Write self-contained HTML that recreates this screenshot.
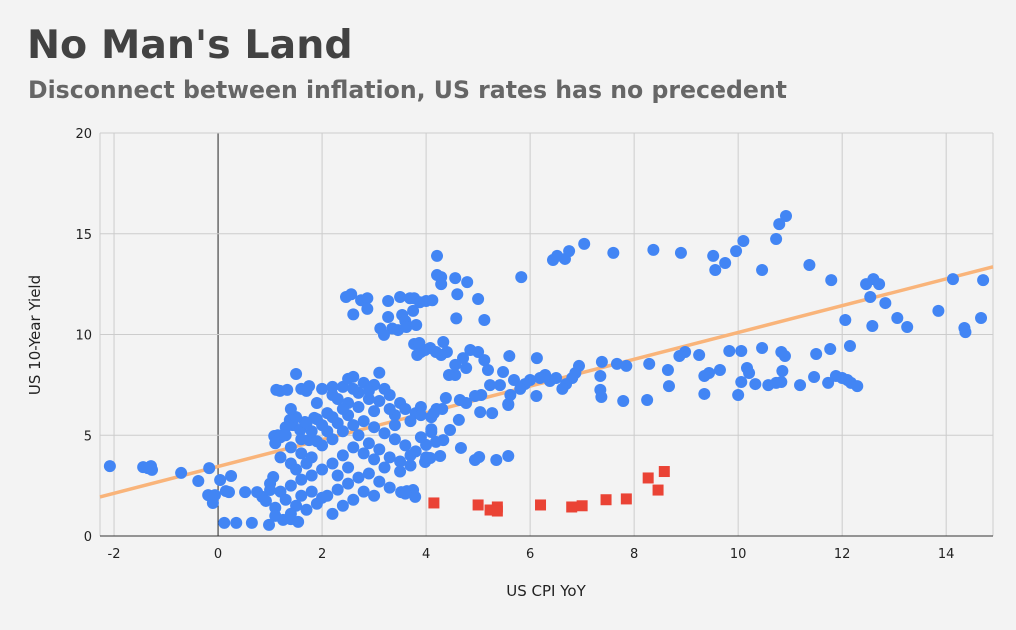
<!DOCTYPE html>
<html><head><meta charset="utf-8">
<style>
html,body{margin:0;padding:0;background:#f3f3f3;}
body{width:1016px;height:626px;overflow:hidden;font-family:"DejaVu Sans","Liberation Sans",sans-serif;}
</style></head>
<body>
<svg id="chart" width="1016" height="626" xmlns="http://www.w3.org/2000/svg">
<rect width="1016" height="626" fill="#f3f3f3"/>
<text x="27" y="58" font-family="DejaVu Sans,sans-serif" font-weight="bold" font-size="39.5" fill="#424242">No Man's Land</text>
<text x="28" y="98" font-family="DejaVu Sans,sans-serif" font-weight="bold" font-size="23.6" fill="#666">Disconnect between inflation, US rates has no precedent</text>
<g id="grid"></g><g id="trend"></g><g id="pts"></g><g id="labels"></g>
<text x="546" y="596" text-anchor="middle" font-size="15" fill="#222">US CPI YoY</text>
<text transform="translate(40,335) rotate(-90)" text-anchor="middle" font-size="15" fill="#222">US 10-Year Yield</text>
</svg>
<script>
const xTicks=[-2,0,2,4,6,8,10,12,14];
const yTicks=[0,5,10,15,20];
const trendIntercept=3.45;
const trendSlope=0.665;
const redX=[4.15,5.0,5.23,5.37,5.37,6.2,6.8,7.0,7.46,7.85,8.27,8.46,8.58];
const redY=[1.64,1.54,1.29,1.44,1.24,1.54,1.44,1.5,1.8,1.84,2.88,2.28,3.2];
const blue=[[-2.08,3.47],[-1.44,3.42],[-1.35,3.37],[-1.27,3.28],[-1.29,3.47],[-0.71,3.13],[-0.38,2.73],[-0.17,3.37],[-0.19,2.03],[-0.1,1.64],[-0.06,2.03],[0.04,2.78],[0.15,2.23],[0.21,2.18],[0.25,2.98],[0.12,0.65],[0.35,0.65],[0.65,0.65],[0.98,0.55],[0.52,2.18],[0.75,2.18],[0.85,1.94],[0.92,1.74],[1.0,2.28],[1.06,2.93],[1.12,7.25],[1.19,7.2],[1.08,4.96],[1.15,5.0],[1.33,7.25],[1.5,8.04],[1.6,7.3],[1.75,7.44],[1.25,0.8],[1.4,0.84],[1.54,0.7],[1.38,5.76],[1.44,5.5],[1.58,5.26],[1.67,5.66],[1.75,4.76],[1.85,5.86],
[2.46,11.86],[2.56,12.0],[2.75,11.7],[2.87,11.8],[2.6,11.0],[2.87,11.27],[3.12,10.3],[3.27,10.87],[3.27,11.66],[3.35,10.3],[3.5,11.86],[3.54,10.97],[3.6,10.67],[3.69,11.8],[3.77,11.8],[3.75,11.17],[3.19,9.98],[3.46,10.22],[3.62,10.37],[3.81,10.47],[3.88,11.6],[4.0,11.66],[4.12,11.7],[4.21,13.9],[4.21,12.95],[4.29,12.85],[4.29,12.5],[4.56,12.8],[4.6,12.0],[4.58,10.8],[4.79,12.6],[5.0,11.76],[5.12,10.72],[5.83,12.85],[6.44,13.7],[6.52,13.9],[6.67,13.75],[6.75,14.14],[7.04,14.5],[7.6,14.05],[8.37,14.2],[8.9,14.05],[9.52,13.9],[9.56,13.2],[9.75,13.55],[9.96,14.14],[10.1,14.64],[10.46,13.2],[10.73,14.74],[10.79,15.48],[10.92,15.88],[11.37,13.45],[11.79,12.7],[12.46,12.5],[12.6,12.75],[12.71,12.5],[12.83,11.56],[12.54,11.86],[12.58,10.42],[12.06,10.72],[13.06,10.82],[13.25,10.37],[13.85,11.17],[14.13,12.75],[14.35,10.32],[14.37,10.12],[14.71,12.7],[14.67,10.82],
[12.15,9.43],[11.77,9.28],[11.5,9.03],[10.9,8.93],[10.83,9.13],[10.85,8.19],[10.83,7.64],[10.73,7.6],[10.58,7.49],[10.46,9.33],[10.17,8.34],[10.21,8.09],[10.06,9.18],[10.06,7.64],[10.0,7.0],[9.83,9.18],[9.65,8.24],[9.44,8.09],[9.35,7.94],[9.35,7.05],[9.25,8.98],[8.98,9.13],[8.87,8.93],[8.65,8.24],[8.67,7.44],[8.25,6.75],[8.29,8.54],[7.79,6.7],[7.85,8.44],[7.67,8.54],[7.35,7.94],[7.35,7.25],[7.37,6.9],[7.38,8.64],[10.33,7.54],[11.19,7.49],[11.46,7.89],[11.73,7.6],[11.88,7.94],[12.0,7.84],[12.1,7.74],[12.17,7.6],[12.29,7.44],
[6.94,8.44],[6.87,8.09],[6.81,7.84],[6.69,7.54],[6.62,7.3],[6.5,7.84],[6.38,7.69],[6.29,7.99],[6.19,7.84],[6.13,8.83],[6.12,6.95],[6.0,7.74],[5.9,7.54],[5.81,7.3],[5.69,7.74],[5.62,7.0],[5.58,6.5],[5.6,8.93],[5.42,7.49],[5.48,8.14],[5.23,7.49],[5.19,8.24],[5.12,8.73],[5.0,9.13],[4.85,9.23],[4.71,8.83],[4.77,8.34],[4.56,7.99],[4.44,7.99],[4.4,9.13],[4.29,8.98],[4.19,9.13],[4.08,9.33],[3.98,9.23],[3.9,9.13],[3.83,8.98],[3.77,9.53],[3.87,9.58],[4.33,9.63],[4.56,8.49],
[5.06,7.0],[4.94,6.95],[4.77,6.6],[4.65,6.75],[4.38,6.85],[4.31,6.3],[4.15,6.1],[5.04,6.15],[5.27,6.1],[4.63,5.76],[4.46,5.26],[4.33,4.76],[4.19,4.67],[4.1,5.16],[4.0,4.52],[3.98,3.67],[4.08,3.87],[4.27,3.97],[4.67,4.37],[4.94,3.77],[5.02,3.92],[5.35,3.77],[5.58,3.97],[5.58,6.55],[3.52,2.18],[3.63,2.23],[3.75,2.28],[3.79,1.94],
[2.0,7.3],[2.2,7.0],[2.4,7.4],[2.5,7.8],[2.6,7.9],[2.8,7.6],[3.0,7.5],[3.1,8.1],[3.2,7.3],[2.7,7.1],[2.9,6.8],[3.3,7.0],[3.5,6.6],[3.6,6.3],[3.8,6.1],[3.9,6.4],[4.1,5.9],[3.4,6.0],[3.0,6.2],[2.7,6.4],[2.5,6.6],[2.3,6.8],[2.1,6.1],[1.9,5.8],[1.7,5.6],[1.5,5.9],[1.3,5.4],[1.2,4.9],[1.1,4.6],[1.4,4.4],[1.6,4.1],[1.8,3.9],[2.0,4.5],[2.2,4.8],[2.4,5.2],[2.6,5.5],[2.8,5.7],[3.0,5.4],[3.2,5.1],[3.4,4.8],[3.6,4.5],[3.8,4.2],[4.0,3.9],[3.7,3.5],[3.5,3.2],[3.2,3.4],[3.0,3.8],[2.8,4.1],[2.6,4.4],[2.4,4.0],[2.2,3.6],[2.0,3.3],[1.8,3.0],[1.6,2.8],[1.4,2.5],[1.2,2.2],[1.0,2.6],[1.3,1.8],[1.5,1.5],[1.7,1.3],[1.9,1.6],[2.1,2.0],[2.3,2.3],[2.5,2.6],[2.7,2.9],[2.9,3.1],[3.1,2.7],[3.3,2.4],[2.6,1.8],[2.4,1.5],[2.2,1.1],[2.0,1.9],[1.8,2.2],[1.6,2.0],[1.4,1.1],[1.1,1.4],[3.6,2.1],[3.0,2.0],[2.8,2.2],[1.9,4.7],[2.1,5.2],[2.3,5.6],[2.5,6.0],[2.7,5.0],[2.9,4.6],[3.1,4.3],[3.3,3.9],[3.5,3.7],[3.7,4.0],[3.9,4.9],[4.1,5.3],[3.1,6.7],[2.9,7.2],[2.6,7.3],[2.4,6.3],[2.2,5.9],[2.0,5.5],[1.8,5.2],[1.6,4.8],[1.4,3.6],[1.5,3.3],[1.7,3.6],[2.3,3.0],[2.5,3.4],[1.2,3.9],[1.1,1.0],[3.4,5.5],[3.7,5.7],[3.9,6.0],[4.2,6.3],[3.3,6.3],[2.2,7.4],[1.9,6.6],[1.7,7.2],[1.4,6.3],[1.3,5.0]];

const NS="http://www.w3.org/2000/svg";
const X0=-2.27,X1=14.9,PL=100,PR=993,PT=133,PB=536,Y0=0,Y1=20;
function sx(v){return PL+(v-X0)/(X1-X0)*(PR-PL);}
function sy(v){return PB-(v-Y0)/(Y1-Y0)*(PB-PT);}
function mk(tag,attrs,parent){const e=document.createElementNS(NS,tag);for(const k in attrs)e.setAttribute(k,attrs[k]);document.getElementById(parent).appendChild(e);return e;}
xTicks.forEach(t=>{
  const l=mk('line',{x1:sx(t),x2:sx(t),y1:PT,y2:PB,stroke:t===0?'#222':'#cccccc','stroke-width':1},'grid');
  
  
  const tx=mk('text',{x:sx(t),y:558,'text-anchor':'middle','font-size':13,fill:'#222'},'labels');
  tx.textContent=t;
  
  
});
[PL,PR].forEach(x=>{const l=mk('line',{x1:x,x2:x,y1:PT,y2:PB,stroke:'#cccccc'},'grid');
  
  });
yTicks.forEach(t=>{
  const l=mk('line',{x1:PL,x2:PR,y1:sy(t),y2:sy(t),stroke:t===0?'#333':'#cccccc'},'grid');
  
  
  const tx=mk('text',{x:92,y:sy(t)+5,'text-anchor':'end','font-size':13,fill:'#222'},'labels');
  tx.textContent=t;
  
  
});
const tl=mk('line',{x1:sx(X0),y1:sy(trendIntercept+trendSlope*X0),x2:sx(X1),y2:sy(trendIntercept+trendSlope*X1),stroke:'#f9b47a','stroke-width':3.5},'trend');


blue.forEach(p=>{
  const c=mk('circle',{cx:sx(p[0]),cy:sy(p[1]),r:6,fill:'#4285f4'},'pts');
  
  
});
redX.forEach((x,i)=>{
  const r=mk('rect',{x:sx(x)-5.5,y:sy(redY[i])-5.5,width:11,height:11,fill:'#ea4335'},'pts');
  
  
});
</script>
</body></html>
